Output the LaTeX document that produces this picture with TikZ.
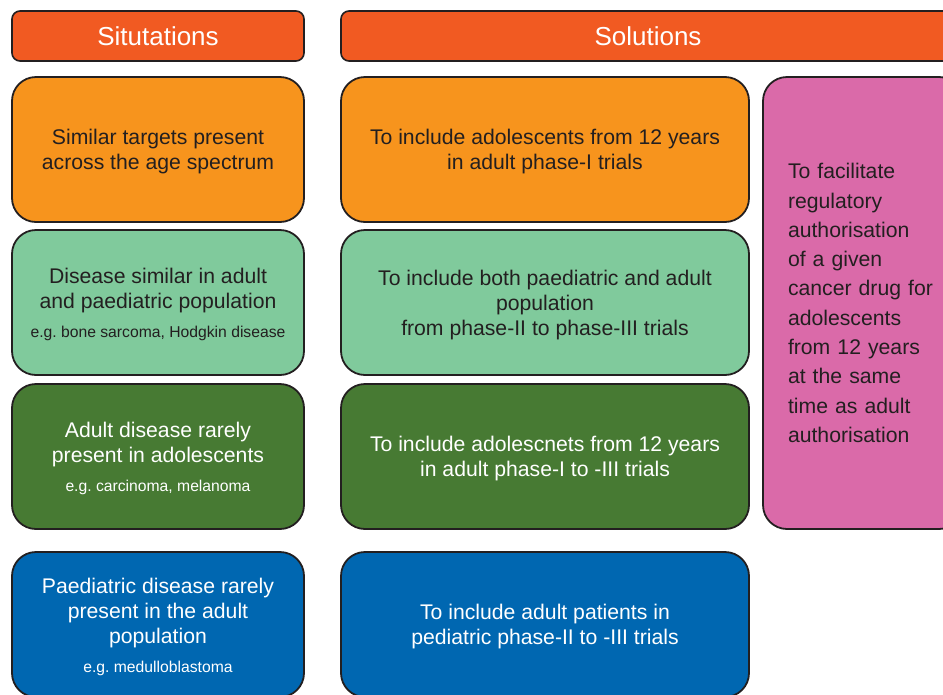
\documentclass[tikz,border=0pt]{standalone}
\usepackage{fontspec}
\setmainfont{Liberation Sans}
\frenchspacing
\definecolor{edge}{HTML}{231F20}
\definecolor{hdrc}{HTML}{F15A22}
\definecolor{orangec}{HTML}{F7941D}
\definecolor{lgreen}{HTML}{80CA9C}
\definecolor{dgreen}{HTML}{477A33}
\definecolor{bluec}{HTML}{0067B1}
\definecolor{pinkc}{HTML}{DA6AA9}
\newcommand{\smalleg}{\fontsize{15.7}{18}\selectfont}
\newcommand{\topup}{\rule{0pt}{20pt}}
\tikzset{
  hdr/.style={draw=edge, line width=1.6pt, rounded corners=8pt, fill=hdrc, text=white,
    font=\fontsize{26}{30}\selectfont, minimum height=50pt, inner sep=0pt},
  cell/.style={draw=edge, line width=1.8pt, rounded corners=24pt, minimum height=145pt,
    align=center, font=\fontsize{21.2}{25}\selectfont, inner sep=0pt},
  lw/.style={minimum width=292pt},
  mw/.style={minimum width=408pt},
  darktxt/.style={text=edge},
  lighttxt/.style={text=white},
}
\begin{document}
\begin{tikzpicture}[x=1pt,y=-1pt]
\useasboundingbox (0,0) rectangle (943,694);
\clip (0,0) rectangle (943,694);
\fill[white] (0,0) rectangle (943,694);
% headers
\node[hdr, minimum width=292pt] (h1) at (158,36) {Situtations};
\node[hdr, minimum width=614pt] (h2) at (648,36) {\hspace*{0pt}};
\node[text=white, font=\fontsize{26}{30}\selectfont] (h2t) at (648,36) {Solutions};
% row 1
\node[cell, lw, fill=orangec, darktxt] (s1) at (158,149.5) {\topup Similar targets present\\across the age spectrum};
\node[cell, mw, fill=orangec, darktxt] (o1) at (545,149.5) {\topup To include adolescents from 12 years\\in adult phase-I trials};
% row 2
\node[cell, lw, fill=lgreen, darktxt] (s2) at (158,302.5) {\topup Disease similar in adult\\and paediatric population\\[4pt]{\smalleg e.g. bone sarcoma, Hodgkin disease}};
\node[cell, mw, fill=lgreen, darktxt] (o2) at (545,302.5) {\topup To include both paediatric and adult\\population\\from phase-II to phase-III trials};
% row 3
\node[cell, lw, fill=dgreen, lighttxt] (s3) at (158,456.5) {\topup Adult disease rarely\\present in adolescents\\[4pt]{\smalleg e.g. carcinoma, melanoma}};
\node[cell, mw, fill=dgreen, lighttxt] (o3) at (545,456.5) {\topup To include adolescnets from 12 years\\in adult phase-I to -III trials};
% row 4
\node[cell, lw, fill=bluec, lighttxt] (s4) at (158,624.5) {\topup Paediatric disease rarely\\present in the adult\\population\\[4pt]{\smalleg e.g. medulloblastoma}};
\node[cell, mw, fill=bluec, lighttxt] (o4) at (545,624.5) {\topup To include adult patients in\\pediatric phase-II to -III trials};
% pink
\node[cell, fill=pinkc, darktxt, minimum height=452pt, align=left, text width=150pt,
      inner xsep=25pt, font=\fontsize{21.2}{29.3}\selectfont] (p) at (863,303)
  {To facilitate\\regulatory\\authorisation\\of a given\\cancer drug for\\adolescents\\from 12 years\\at the same\\time as adult\\authorisation};
\end{tikzpicture}
\end{document}
